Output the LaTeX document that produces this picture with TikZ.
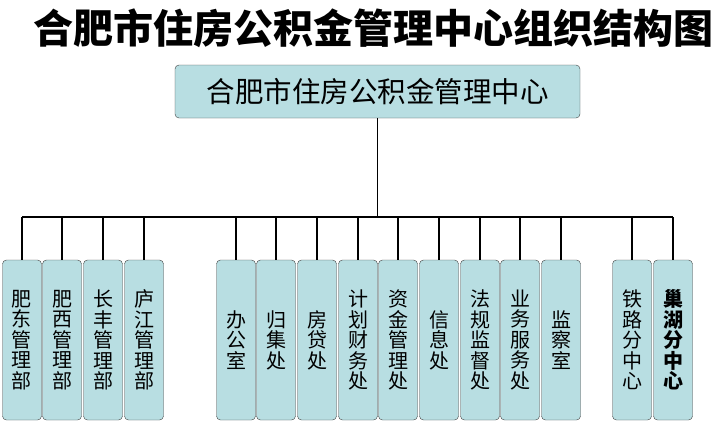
\documentclass[tikz,border=0pt]{standalone}
\usepackage{fontspec}
\setmainfont{Noto Sans CJK SC}
\usepackage{tikz}
\usetikzlibrary{positioning}
\definecolor{boxblue}{RGB}{184,222,226}
\tikzset{
  unit/.style={draw=black!75, fill=boxblue, rounded corners=4pt,
    minimum width=39pt, minimum height=160pt, inner sep=0pt,
    align=center, font=\fontsize{20}{20.5}\selectfont},
  link/.style={line width=1.6pt}
}

\begin{document}
\begin{tikzpicture}[x=1pt,y=-1pt]
\useasboundingbox (0,0) rectangle (723,432);

% Title
\node[font=\bfseries\fontsize{40}{40}\selectfont] (title) at (374,28) {合肥市住房公积金管理中心组织结构图};

% Centre
\node[unit, minimum width=405pt, minimum height=53pt,
  font=\fontsize{28.5}{30}\selectfont] (centre) at (377.5,91.5) {合肥市住房公积金管理中心};

% Departments
\foreach \i/\x/\name in {1/22/{肥\\东\\管\\理\\部}, 2/62/{肥\\西\\管\\理\\部},
    3/103/{长\\丰\\管\\理\\部}, 4/144/{庐\\江\\管\\理\\部},
    5/236/{办\\公\\室}, 6/276/{归\\集\\处}, 7/317/{房\\贷\\处},
    8/358/{计\\划\\财\\务\\处}, 9/398/{资\\金\\管\\理\\处}, 10/439/{信\\息\\处},
    11/480/{法\\规\\监\\督\\处}, 12/520/{业\\务\\服\\务\\处}, 13/561/{监\\察\\室},
    14/632/{铁\\路\\分\\中\\心}}
  \node[unit] (d\i) at (\x,340) {\name};
\node[unit, font=\bfseries\fontsize{20}{20.5}\selectfont] (d15) at (673,340) {巢\\湖\\分\\中\\心};

% Connectors
\coordinate (bus) at (377.5,217);
\draw[link] (centre.south) -- (centre.south |- bus);
\draw[link] (d1.north |- bus) -- (d15.north |- bus);
\foreach \i in {1,...,15}
  \draw[link] (d\i.north) -- (d\i.north |- bus);
\end{tikzpicture}
\end{document}
